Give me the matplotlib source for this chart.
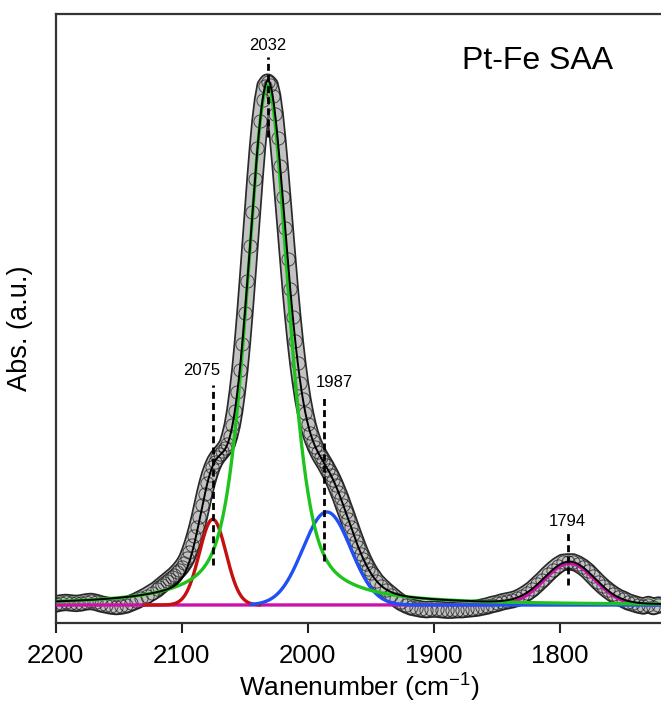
import numpy as np
import matplotlib
matplotlib.use("Agg")
import matplotlib.pyplot as plt
import matplotlib.patheffects as pe

plt.rcParams['font.family'] = ['Liberation Sans', 'DejaVu Sans']

wn = np.concatenate([np.arange(2200, 2119, -4), np.arange(2118, 1949, -2), np.arange(1946, 1721, -4)])
absb = [
    0.002, 0.004, 0.005, 0.004, 0.003, 0.004, 0.006, 0.007, 0.005, 0.002, 0.000, -0.002,
    -0.003, -0.002, 0.000, 0.004, 0.008, 0.013, 0.018, 0.024, 0.030, 0.034, 0.038, 0.042,
    0.046, 0.050, 0.054, 0.058, 0.063, 0.068, 0.074, 0.081, 0.090, 0.102, 0.116, 0.132,
    0.150, 0.170, 0.192, 0.214, 0.234, 0.251, 0.265, 0.276, 0.284, 0.290, 0.296, 0.302,
    0.310, 0.326, 0.346, 0.374, 0.410, 0.452, 0.503, 0.561, 0.624, 0.690, 0.756, 0.820,
    0.880, 0.932, 0.972, 0.999, 1.006, 1.001, 0.980, 0.945, 0.898, 0.844, 0.785, 0.725,
    0.665, 0.608, 0.555, 0.507, 0.465, 0.428, 0.396, 0.370, 0.348, 0.330, 0.316, 0.304,
    0.294, 0.285, 0.277, 0.269, 0.260, 0.251, 0.241, 0.230, 0.218, 0.206, 0.192, 0.179,
    0.165, 0.151, 0.137, 0.124, 0.111, 0.099, 0.088, 0.078, 0.069, 0.061, 0.047, 0.037,
    0.028, 0.020, 0.012, 0.005, 0.000, -0.004, -0.006, -0.008, -0.009, -0.008, -0.008, -0.009,
    -0.010, -0.010, -0.009, -0.009, -0.008, -0.007, -0.006, -0.004, -0.002, 0.001, 0.003, 0.006,
    0.008, 0.010, 0.013, 0.018, 0.024, 0.031, 0.040, 0.049, 0.059, 0.068, 0.076, 0.082,
    0.083, 0.083, 0.079, 0.073, 0.065, 0.055, 0.045, 0.036, 0.028, 0.021, 0.015, 0.011,
    0.006, 0.003, 0.000, -0.002, 0.001, -0.003, 0.000,
]

# fitted peaks: centre, height, lorentz hwhm, gauss sigma, lorentz fraction
peak_centre = [2075.5, 2032, 1985, 1792.5]
peak_height = [0.165, 1.0, 0.179, 0.080]
peak_gamma = [1, 20, 1, 1]
peak_sigma = [10.6, 16.5, 19, 20]
peak_eta = [0, 0.5, 0, 0]
peak_color = ['#c41010', '#1ec31e', '#1f4ff5', '#cc10a8']
peak_span = [(2130, 2038), (2200, 1720), (2045, 1720), (2200, 1720)]

# labelled positions
mark_pos = [2075, 2032, 1987, 1794]
mark_text = ['2075', '2032', '1987', '1794']

def pvoigt(x, c, h, g, s, eta):
    return h * (eta / (1 + ((x - c) / g) ** 2) + (1 - eta) * np.exp(-(x - c) ** 2 / (2 * s ** 2)))

fig = plt.figure(figsize=(6.61, 7.11), dpi=100)
ax = fig.add_axes([0.0843, 0.1242, 0.9157, 0.8561])

# data: band + open circles
ax.plot(wn, absb, color='#c2c2c2', lw=10, solid_capstyle='round', zorder=2,
        path_effects=[pe.Stroke(linewidth=12.5, foreground='#2a2a2a'), pe.Normal()])
ax.plot(wn, absb, 'o', mfc='none', mec='#111111', mew=0.7, ms=9.5, alpha=0.7, zorder=3)

xf = np.linspace(2200, 1720, 2000)
total = np.zeros_like(xf)
comps = []
for c, h, g, s, eta in zip(peak_centre, peak_height, peak_gamma, peak_sigma, peak_eta):
    comps.append(pvoigt(xf, c, h, g, s, eta))
    total += comps[-1]

# draw order: magenta, red, blue, green
for i in [3, 0, 2, 1]:
    lo, hi = peak_span[i][1], peak_span[i][0]
    m = (xf >= lo) & (xf <= hi)
    ax.plot(xf[m], comps[i][m], color=peak_color[i], lw=2.4, zorder=4)

ax.plot(xf, total, color='k', lw=1.4, zorder=5)

# dashed marker lines with labels
seg_lo = [0.077, 0.90, 0.085, 0.038]
seg_hi = [0.423, 1.054, 0.404, 0.138]
txt_x = [2084, 2032, 1979, 1794]
txt_y = [0.452, 1.077, 0.428, 0.160]
for p, lo, hi, tx, ty, t in zip(mark_pos, seg_lo, seg_hi, txt_x, txt_y, mark_text):
    ax.plot([p, p], [lo, hi], color='k', lw=2, ls=(0, (2.5, 1.5)), zorder=6)
    ax.text(tx, ty, t, ha='center', va='center', fontsize=12, zorder=7)

ax.text(0.921, 0.923, 'Pt-Fe SAA', transform=ax.transAxes, ha='right', va='center', fontsize=23)

ax.set_xlim(2200, 1720)
ax.set_ylim(-0.034, 1.137)
ax.set_xticks([2200, 2100, 2000, 1900, 1800])
ax.set_yticks([])
ax.tick_params(axis='x', direction='out', length=7, width=1.5, labelsize=18.5, pad=8, colors='#222222')
ax.tick_params(axis='x', labelcolor='black')
for sp in ['left', 'bottom', 'top']:
    ax.spines[sp].set_linewidth(1.6)
    ax.spines[sp].set_color('#333333')
ax.spines['right'].set_visible(False)

ax.set_xlabel('Wanenumber (cm$^{\\mathregular{-1}}$)', fontsize=19)
ax.xaxis.set_label_coords(0.501, -0.078)
ax.set_ylabel('Abs. (a.u.)', fontsize=19.5)
ax.yaxis.set_label_coords(-0.038, 0.484)

fig.savefig('out.png', dpi=100)
